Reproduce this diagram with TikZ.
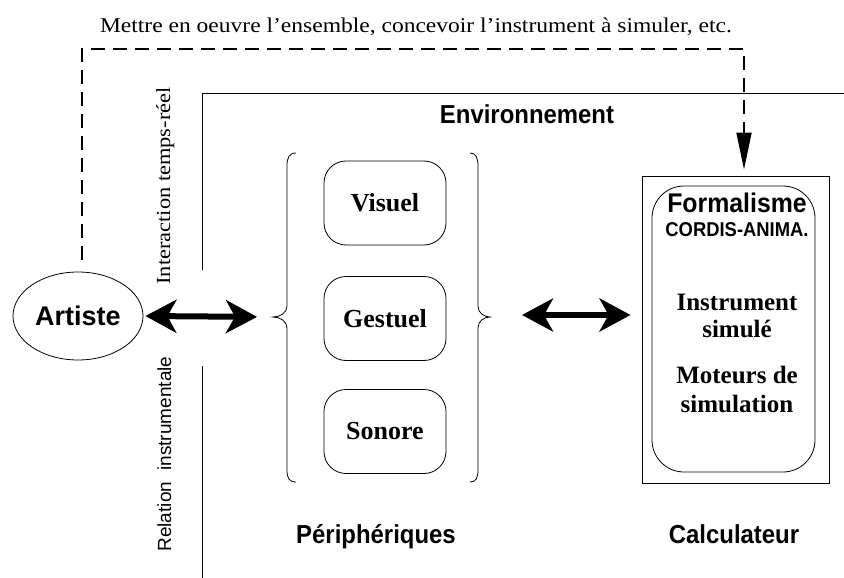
\documentclass[tikz,border=0pt]{standalone}
\usepackage{fontspec}
\setmainfont{Liberation Serif}
\setsansfont{Liberation Sans}
\usetikzlibrary{arrows.meta,shapes.geometric}
\begin{document}
\begin{tikzpicture}[x=1pt,y=-1pt,
  periph/.style={draw, line width=0.8pt, rounded corners=22pt, minimum width=122pt, minimum height=84pt, inner sep=0pt, font=\fontsize{26}{28}\selectfont\bfseries},
  sanslab/.style={font=\sffamily\bfseries\fontsize{26}{30}\selectfont, xscale=0.92, inner sep=0pt},
  seriflab/.style={font=\fontsize{25}{28}\selectfont\bfseries, inner sep=0pt},
  bigarrow/.style={line width=6pt, {Stealth[length=31pt,width=33pt,inset=9pt]}-{Stealth[length=31pt,width=33pt,inset=9pt]}},
  dashline/.style={line width=1.8pt, dash pattern=on 14pt off 8pt},
  envline/.style={line width=1pt},
  bracel/.style={line width=0.8pt}
]
\useasboundingbox (0,0) rectangle (844,578);

% top text
\node[anchor=base, inner sep=0pt, font=\fontsize{21}{25}\selectfont, xscale=1.12] (toptext) at (416,33) {Mettre en oeuvre l’ensemble, concevoir l’instrument à simuler, etc.};

% environment frame
\draw[envline] (202,270) -- (202,94) -- (844,94);
\draw[envline] (202,366) -- (202,578);
\node[sanslab, anchor=base] (env) at (527,123) {Environnement};

% rotated labels
\node[anchor=base, rotate=90, inner sep=0pt, font=\fontsize{20}{24}\selectfont, xscale=1.12] (inter) at (170,186) {Interaction temps-réel};
\node[anchor=base, rotate=90, inner sep=0pt, font=\sffamily\fontsize{19}{23}\selectfont] (relat) at (171,454) {Relation\hspace{6pt} instrumentale};

% artiste
\node[draw, ellipse, line width=0.8pt, minimum width=130pt, minimum height=88pt, inner sep=0pt, font=\sffamily\bfseries\fontsize{27}{30}\selectfont] (artiste) at (78,316) {Artiste};

% peripheriques
\node[periph] (visuel) at (385,203) {Visuel};
\node[periph] (gestuel) at (385,318.5) {Gestuel};
\node[periph] (sonore) at (385,431.5) {Sonore};
\draw[bracel] (296,153) .. controls (289,153) and (287,158) .. (287,166) -- (287,306) .. controls (287,313) and (280,317) .. (273,317) .. controls (280,317) and (287,321) .. (287,328) -- (287,470) .. controls (287,478) and (289,482) .. (296,482);
\draw[bracel] (470,153) .. controls (476,153) and (478,158) .. (478,166) -- (478,306) .. controls (478,313) and (484,317) .. (490,317) .. controls (484,317) and (478,321) .. (478,328) -- (478,470) .. controls (478,478) and (476,482) .. (470,482);
\coordinate (lbrace) at (273,317);
\coordinate (rbrace) at (490,315);
\node[sanslab, anchor=base] (periphlab) at (376,543) {Périphériques};

% calculateur
\node[draw, line width=0.9pt, minimum width=187pt, minimum height=307pt, inner sep=0pt] (calc) at (735.5,329.5) {};
\node[draw, line width=0.8pt, rounded corners=32pt, minimum width=163pt, minimum height=286pt, inner sep=0pt] (formal) at (733.5,329) {};
\node[anchor=base, inner sep=0pt, font=\sffamily\bfseries\fontsize{27}{30}\selectfont, xscale=0.92] (t1) at (737,212) {Formalisme};
\node[anchor=base, inner sep=0pt, font=\sffamily\bfseries\fontsize{20}{23}\selectfont, xscale=0.92] (t2) at (737,236) {CORDIS-ANIMA.};
\node[seriflab, anchor=base] (t3) at (737,310) {Instrument};
\node[seriflab, anchor=base] (t4) at (737,337) {simulé};
\node[seriflab, anchor=base] (t5) at (737,383) {Moteurs de};
\node[seriflab, anchor=base] (t6) at (737,412) {simulation};
\node[sanslab, anchor=base] (calclab) at (734,543) {Calculateur};

% arrows
\draw[bigarrow, shorten <=2pt, shorten >=16pt] (artiste.east) -- (lbrace);
\draw[bigarrow, shorten <=32pt, shorten >=11pt] (rbrace) -- (calc.west |- rbrace);
\coordinate (dstart) at (82,260);
\draw[dashline, -{Triangle[length=37pt,width=15pt]}] (dstart) -- (82,49) -- (744,49) -- ([xshift=8.5pt,yshift=6pt]calc.north);
\end{tikzpicture}
\end{document}
